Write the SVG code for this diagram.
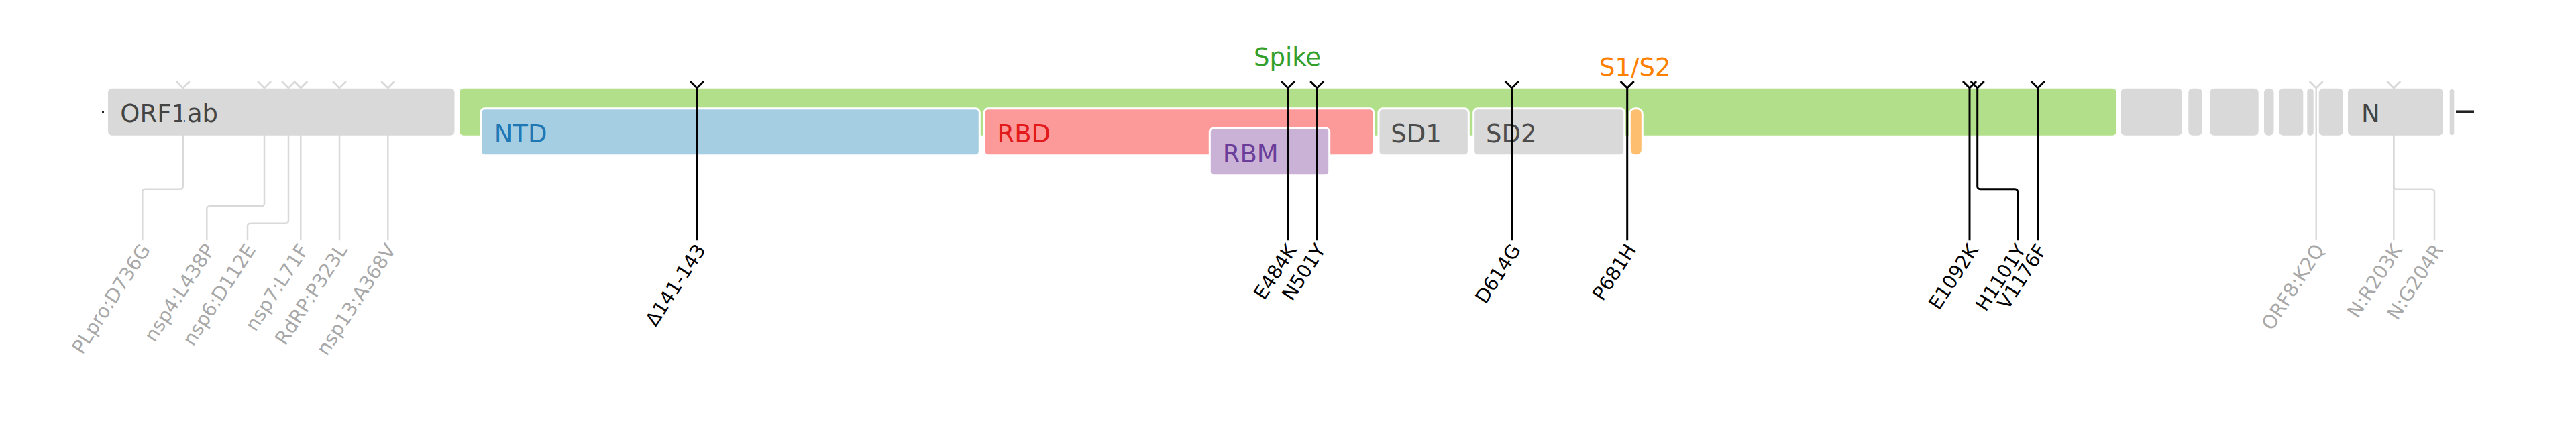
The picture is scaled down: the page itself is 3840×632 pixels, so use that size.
<svg xmlns="http://www.w3.org/2000/svg" width="3840" height="632" viewBox="0 0 3840 632">
<style>
.gene{fill:#d9d9d9}
.dom{stroke:#fff;stroke-width:3}
.lab{font-family:'DejaVu Sans','Liberation Sans',sans-serif;font-size:37px}
.mut{font-family:'DejaVu Sans','Liberation Sans',sans-serif;font-size:28.5px;text-anchor:end}
.gm{fill:#a8a8a8}
.bm{fill:#000}
.gl{fill:none;stroke:#d9d9d9;stroke-width:2.5;stroke-linejoin:round}
.bl{fill:none;stroke:#000;stroke-width:3;stroke-linejoin:round}
</style>
<rect width="3840" height="632" fill="#fff"/>
<g id="ends">
<rect x="152" y="165" width="3" height="3.5" fill="#222"/>
<line x1="3661" y1="166.7" x2="3688" y2="166.7" stroke="#222" stroke-width="4.5"/>
</g>
<g id="ORF1ab"><rect class="gene" x="161" y="131.7" width="516.5" height="70" rx="6"/><text class="lab" x="179.3" y="181.7" fill="#444">ORF1ab</text></g>
<g id="Spike"><rect x="685" y="131.7" width="2470" height="70" rx="6" fill="#b2df8a"/><text class="lab" x="1919" y="98.3" text-anchor="middle" fill="#33a02c">Spike</text></g>
<g id="NTD"><rect class="dom" x="716.7" y="161.7" width="743.6" height="70" rx="6" fill="#a6cee3"/><text class="lab" x="736.7" y="211.7" fill="#1f78b4">NTD</text></g>
<g id="RBD"><rect class="dom" x="1467.2" y="161.7" width="580.5" height="70" rx="6" fill="#fb9a99"/><text class="lab" x="1486.5" y="211.7" fill="#e31a1c">RBD</text></g>
<g id="RBM"><rect class="dom" x="1803.3" y="190.7" width="178.4" height="71" rx="6" fill="#cab2d6"/><text class="lab" x="1822.7" y="241.7" fill="#6a3d9a">RBM</text></g>
<g id="SD1"><rect class="dom" x="2055" y="161.7" width="134.3" height="70" rx="6" fill="#d9d9d9"/><text class="lab" x="2073.3" y="211.7" fill="#4d4d4d">SD1</text></g>
<g id="SD2"><rect class="dom" x="2196.7" y="161.7" width="225" height="70" rx="6" fill="#d9d9d9"/><text class="lab" x="2215" y="211.7" fill="#4d4d4d">SD2</text></g>
<g id="S1S2"><rect class="dom" x="2429.3" y="161.7" width="19" height="70" rx="8" fill="#fdbf6f"/><text class="lab" x="2437.3" y="113.3" text-anchor="middle" fill="#ff7f00">S1/S2</text></g>
<g id="ORF3a"><rect class="gene" x="3161.7" y="131.7" width="91" height="70" rx="6"/></g>
<g id="E"><rect class="gene" x="3262.3" y="131.7" width="20.4" height="70" rx="6"/></g>
<g id="M"><rect class="gene" x="3294.3" y="131.7" width="72.4" height="70" rx="6"/></g>
<g id="ORF6"><rect class="gene" x="3375" y="131.7" width="14.5" height="70" rx="6"/></g>
<g id="ORF7a"><rect class="gene" x="3397.3" y="131.7" width="36" height="70" rx="6"/></g>
<g id="ORF7b"><rect class="gene" x="3439.3" y="131.7" width="9.4" height="70" rx="4.5"/></g>
<g id="ORF8"><rect class="gene" x="3456.7" y="131.7" width="36" height="70" rx="6"/></g>
<g id="N"><rect class="gene" x="3500" y="131.7" width="141.7" height="70" rx="6"/><text class="lab" x="3520" y="181.7" fill="#444">N</text></g>
<g id="ORF10"><rect class="gene" x="3651.7" y="133" width="6.6" height="68" rx="3.3"/></g>
<g id="connectors">
<path class="gl" d="M262.7,121 L272.7,131 L282.7,121 M272.7,131 V277.7 A4,4 0 0 1 268.7,281.7 H216.3 A4,4 0 0 0 212.3,285.7 V358.3"/>
<path class="gl" d="M384,121 L394,131 L404,121 M394,131 V303.3 A4,4 0 0 1 390,307.3 H312.3 A4,4 0 0 0 308.3,311.3 V358.3"/>
<path class="gl" d="M420,121 L430,131 L440,121 M430,131 V328.7 A4,4 0 0 1 426,332.7 H373 A4,4 0 0 0 369,336.7 V358.3"/>
<path class="gl" d="M438.3,121 L448.3,131 L458.3,121 M448.3,131 V358.3"/>
<path class="gl" d="M496,121 L506,131 L516,121 M506,131 V358.3"/>
<path class="gl" d="M568.3,121 L578.3,131 L588.3,121 M578.3,131 V358.3"/>
<path class="gl" d="M3442.7,121 L3452.7,131 L3462.7,121 M3452.7,131 V358.3"/>
<path class="gl" d="M3558.3,121 L3568.3,131 L3578.3,121 M3568.3,131 V358.3"/>
<path class="gl" d="M3568.3,131 V277.7 A4,4 0 0 0 3572.3,281.7 H3625 A4,4 0 0 1 3629,285.7 V358.3"/>
<path class="bl" d="M1029,121 L1039,131 L1049,121 M1039,131 V358.3"/>
<path class="bl" d="M1910,121 L1920,131 L1930,121 M1920,131 V358.3"/>
<path class="bl" d="M1953.3,121 L1963.3,131 L1973.3,121 M1963.3,131 V358.3"/>
<path class="bl" d="M2243.7,121 L2253.7,131 L2263.7,121 M2253.7,131 V358.3"/>
<path class="bl" d="M2415.7,121 L2425.7,131 L2435.7,121 M2425.7,131 V358.3"/>
<path class="bl" d="M2926,121 L2936,131 L2946,121 M2936,131 V358.3"/>
<path class="bl" d="M2937.7,121 L2947.7,131 L2957.7,121 M2947.7,131 V277.7 A4,4 0 0 0 2951.7,281.7 H3003.7 A4,4 0 0 1 3007.7,285.7 V358.3"/>
<path class="bl" d="M3027.7,121 L3037.7,131 L3047.7,121 M3037.7,131 V358.3"/>
</g>
<g id="mutation-labels">
<text class="mut gm" transform="translate(225,372) rotate(-57)">PLpro:D736G</text>
<text class="mut gm" transform="translate(321,372) rotate(-57)">nsp4:L438P</text>
<text class="mut gm" transform="translate(382,372) rotate(-57)">nsp6:D112E</text>
<text class="mut gm" transform="translate(461,372) rotate(-57)">nsp7:L71F</text>
<text class="mut gm" transform="translate(519,372) rotate(-57)">RdRP:P323L</text>
<text class="mut gm" transform="translate(591,372) rotate(-57)">nsp13:A368V</text>
<text class="mut gm" transform="translate(3466,372) rotate(-57)">ORF8:K2Q</text>
<text class="mut gm" transform="translate(3582,372) rotate(-57)">N:R203K</text>
<text class="mut gm" transform="translate(3643,372) rotate(-57)">N:G204R</text>
<text class="mut bm" transform="translate(1053,372) rotate(-57)">Δ141-143</text>
<text class="mut bm" transform="translate(1934,372) rotate(-57)">E484K</text>
<text class="mut bm" transform="translate(1977,372) rotate(-57)">N501Y</text>
<text class="mut bm" transform="translate(2268,372) rotate(-57)">D614G</text>
<text class="mut bm" transform="translate(2440,372) rotate(-57)">P681H</text>
<text class="mut bm" transform="translate(2950,372) rotate(-57)">E1092K</text>
<text class="mut bm" transform="translate(3021,372) rotate(-57)">H1101Y</text>
<text class="mut bm" transform="translate(3052,372) rotate(-57)">V1176F</text>
</g>
</svg>
